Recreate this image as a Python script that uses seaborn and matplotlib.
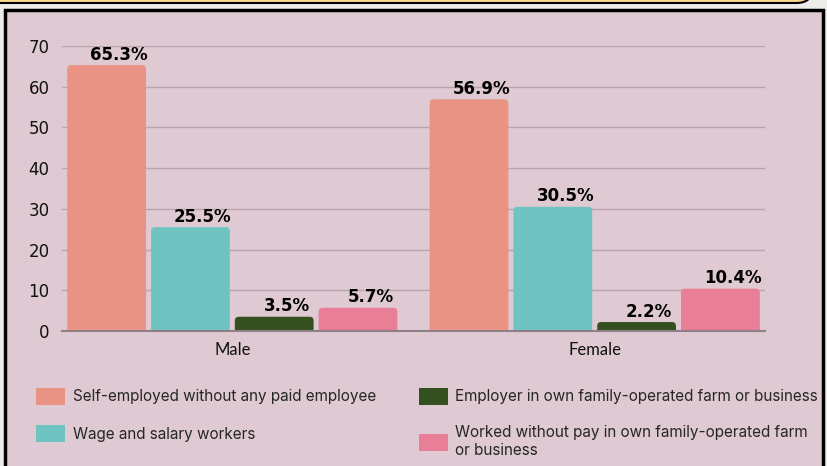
import numpy as np
import pandas as pd
import matplotlib.pyplot as plt
import seaborn as sns
from matplotlib.patches import FancyBboxPatch

# data
groups = ['Male', 'Female']
categories = ['Self-employed without any paid employee',
              'Wage and salary workers',
              'Employer in own family-operated farm or business',
              'Worked without pay in own family-operated farm\nor business']
male = [65.3, 25.5, 3.5, 5.7]
female = [56.9, 30.5, 2.2, 10.4]
colors = ['#e99385', '#6fc3c1', '#34501f', '#e97e97']

df = pd.DataFrame({
    'group': np.repeat(groups, len(categories)),
    'category': categories * 2,
    'share': male + female,
})

sns.set_style("white")
plt.rcParams['font.family'] = ['Lato', 'DejaVu Sans']

bg = '#dfc9d3'
fig = plt.figure(figsize=(8.27, 4.66), dpi=100, facecolor='#ececea')

# panel behind the chart and the yellow box peeking in at the top
fig.patches.append(FancyBboxPatch((5 / 827, -0.05), 818 / 827, 1 - 10 / 466 + 0.05,
                                  boxstyle='square,pad=0', transform=fig.transFigure,
                                  facecolor=bg, edgecolor='black', linewidth=2.5, zorder=-2))
fig.patches.append(FancyBboxPatch((-20 / 827, 1 - 3 / 466), 833 / 827, 0.2,
                                  boxstyle='round,pad=0,rounding_size=0.02',
                                  transform=fig.transFigure, mutation_aspect=827 / 466,
                                  facecolor='#f8d98c', edgecolor='black', linewidth=1.5, zorder=-2))

ax = fig.add_axes([62 / 827, 1 - 331 / 466, 703 / 827, 285 / 466])
ax.set_facecolor('none')

sns.barplot(data=df, x='group', y='share', hue='category', palette=colors,
            width=0.925, gap=0.06, saturation=1, linewidth=0, ax=ax, legend=True)

ax.set_ylim(0, 70)
ax.set_xlim(-0.47, 1.47)
ax.set_yticks(range(0, 71, 10))
ax.yaxis.grid(True, color='#b9a3ad', linewidth=1)
ax.set_axisbelow(True)
for s in ['top', 'right', 'left']:
    ax.spines[s].set_visible(False)
ax.spines['bottom'].set_color('#8f8088')
ax.spines['bottom'].set_linewidth(1.5)
ax.spines['bottom'].set_zorder(3)
ax.tick_params(axis='y', length=0, pad=9, labelsize=12, labelcolor='#111111')
ax.tick_params(axis='x', length=0, pad=8, labelsize=12, labelcolor='#111111')
for t in ax.get_yticklabels():
    t.set_fontfamily('DejaVu Sans')
ax.set_xlabel('')
ax.set_ylabel('')

# value labels sit a little right of the bar centre in the original
for cont in ax.containers:
    anns = ax.bar_label(cont, labels=[f'{v:.1f}%' for v in cont.datavalues],
                        padding=1, fontsize=12, fontweight='bold', color='black',
                        family='DejaVu Sans')
    for a in anns:
        a.xyann = (9, 1)

# round the top corners: redraw each seaborn bar as a rounded box, bottom hidden below 0
px_x = 703 / (ax.get_xlim()[1] - ax.get_xlim()[0])
px_y = 285 / 70
r = 4 / px_x
for cont in ax.containers:
    for bar in cont:
        x0, w, h = bar.get_x(), bar.get_width(), bar.get_height()
        ax.add_patch(FancyBboxPatch((x0, -3), w, h + 3,
                                    boxstyle=f'round,pad=0,rounding_size={r}',
                                    mutation_aspect=px_x / px_y,
                                    facecolor=bar.get_facecolor(), edgecolor='none', zorder=2))
        bar.set_visible(False)

handles, labels = ax.get_legend_handles_labels()
ax.get_legend().remove()
for h in handles:
    h.set_edgecolor('none')
    h.set_visible(True)
fig.legend(handles, labels, loc='upper left', bbox_to_anchor=(36 / 827, 1 - 388 / 466),
           ncol=2, frameon=False, prop={'family': 'Inter', 'size': 11},
           handlelength=1.9, handleheight=1.3, borderpad=0, borderaxespad=0,
           handletextpad=0.5, columnspacing=2.8, labelspacing=1.35)

plt.savefig('out.png', dpi=100, facecolor=fig.get_facecolor())
